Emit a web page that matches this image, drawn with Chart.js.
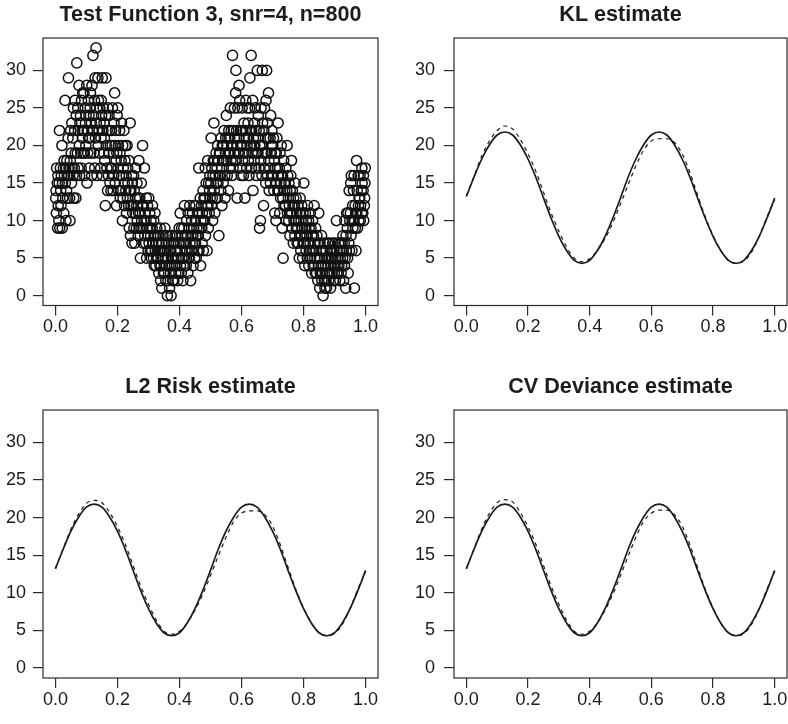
<!DOCTYPE html>
<html>
<head>
<meta charset="utf-8">
<script src="https://cdn.jsdelivr.net/npm/chart.js@4.4.1/dist/chart.umd.min.js"></script>
<style>
html,body{margin:0;padding:0;background:#fff;width:788px;height:724px;overflow:hidden;position:relative;}
canvas{position:absolute;display:block;}
</style>
</head>
<body>
<canvas id="c1" width="394" height="362" style="left:0px;top:0px"></canvas>
<canvas id="c2" width="420" height="362" style="left:394px;top:0px"></canvas>
<canvas id="c3" width="394" height="362" style="left:0px;top:362px"></canvas>
<canvas id="c4" width="420" height="362" style="left:394px;top:362px"></canvas>
<script>
// ---------- data ----------
const scatterX = [
.001,.002,.003,.004,.006,.007,.008,.009,.011,.012,.013,.014,.016,.017,.018,.019,.021,.022,.023,.024,.026,.027,.028,.029,.031,.032,.033,.034,.036,.037,.038,.039,.041,.042,.043,.044,.046,.047,.048,.049,
.051,.052,.053,.054,.056,.057,.058,.059,.061,.062,.063,.064,.066,.067,.068,.069,.071,.072,.073,.074,.076,.077,.078,.079,.081,.082,.083,.084,.086,.087,.088,.089,.091,.092,.093,.094,.096,.097,.098,.099,
.101,.102,.103,.104,.106,.107,.108,.109,.111,.112,.113,.114,.116,.117,.118,.119,.121,.122,.123,.124,.126,.127,.128,.129,.131,.132,.133,.134,.136,.137,.138,.139,.141,.142,.143,.144,.146,.147,.148,.149,
.151,.152,.153,.154,.156,.157,.158,.159,.161,.162,.163,.164,.166,.167,.168,.169,.171,.172,.173,.174,.176,.177,.178,.179,.181,.182,.183,.184,.186,.187,.188,.189,.191,.192,.193,.194,.196,.197,.198,.199,
.201,.202,.203,.204,.206,.207,.208,.209,.211,.212,.213,.214,.216,.217,.218,.219,.221,.222,.223,.224,.226,.227,.228,.229,.231,.232,.233,.234,.236,.237,.238,.239,.241,.242,.243,.244,.246,.247,.248,.249,
.251,.252,.253,.254,.256,.257,.258,.259,.261,.262,.263,.264,.266,.267,.268,.269,.271,.272,.273,.274,.276,.277,.278,.279,.281,.282,.283,.284,.286,.287,.288,.289,.291,.292,.293,.294,.296,.297,.298,.299,
.301,.302,.303,.304,.306,.307,.308,.309,.311,.312,.313,.314,.316,.317,.318,.319,.321,.322,.323,.324,.326,.327,.328,.329,.331,.332,.333,.334,.336,.337,.338,.339,.341,.342,.343,.344,.346,.347,.348,.349,
.351,.352,.353,.354,.356,.357,.358,.359,.361,.362,.363,.364,.366,.367,.368,.369,.371,.372,.373,.374,.376,.377,.378,.379,.381,.382,.383,.384,.386,.387,.388,.389,.391,.392,.393,.394,.396,.397,.398,.399,
.401,.402,.403,.404,.406,.407,.408,.409,.411,.412,.413,.414,.416,.417,.418,.419,.421,.422,.423,.424,.426,.427,.428,.429,.431,.432,.433,.434,.436,.437,.438,.439,.441,.442,.443,.444,.446,.447,.448,.449,
.451,.452,.453,.454,.456,.457,.458,.459,.461,.462,.463,.464,.466,.467,.468,.469,.471,.472,.473,.474,.476,.477,.478,.479,.481,.482,.483,.484,.486,.487,.488,.489,.491,.492,.493,.494,.496,.497,.498,.499,
.501,.502,.503,.504,.506,.507,.508,.509,.511,.512,.513,.514,.516,.517,.518,.519,.521,.522,.523,.524,.526,.527,.528,.529,.531,.532,.533,.534,.536,.537,.538,.539,.541,.542,.543,.544,.546,.547,.548,.549,
.551,.552,.553,.554,.556,.557,.558,.559,.561,.562,.563,.564,.566,.567,.568,.569,.571,.572,.573,.574,.576,.577,.578,.579,.581,.582,.583,.584,.586,.587,.588,.589,.591,.592,.593,.594,.596,.597,.598,.599,
.601,.602,.603,.604,.606,.607,.608,.609,.611,.612,.613,.614,.616,.617,.618,.619,.621,.622,.623,.624,.626,.627,.628,.629,.631,.632,.633,.634,.636,.637,.638,.639,.641,.642,.643,.644,.646,.647,.648,.649,
.651,.652,.653,.654,.656,.657,.658,.659,.661,.662,.663,.664,.666,.667,.668,.669,.671,.672,.673,.674,.676,.677,.678,.679,.681,.682,.683,.684,.686,.687,.688,.689,.691,.692,.693,.694,.696,.697,.698,.699,
.701,.702,.703,.704,.706,.707,.708,.709,.711,.712,.713,.714,.716,.717,.718,.719,.721,.722,.723,.724,.726,.727,.728,.729,.731,.732,.733,.734,.736,.737,.738,.739,.741,.742,.743,.744,.746,.747,.748,.749,
.751,.752,.753,.754,.756,.757,.758,.759,.761,.762,.763,.764,.766,.767,.768,.769,.771,.772,.773,.774,.776,.777,.778,.779,.781,.782,.783,.784,.786,.787,.788,.789,.791,.792,.793,.794,.796,.797,.798,.799,
.801,.802,.803,.804,.806,.807,.808,.809,.811,.812,.813,.814,.816,.817,.818,.819,.821,.822,.823,.824,.826,.827,.828,.829,.831,.832,.833,.834,.836,.837,.838,.839,.841,.842,.843,.844,.846,.847,.848,.849,
.851,.852,.853,.854,.856,.857,.858,.859,.861,.862,.863,.864,.866,.867,.868,.869,.871,.872,.873,.874,.876,.877,.878,.879,.881,.882,.883,.884,.886,.887,.888,.889,.891,.892,.893,.894,.896,.897,.898,.899,
.901,.902,.903,.904,.906,.907,.908,.909,.911,.912,.913,.914,.916,.917,.918,.919,.921,.922,.923,.924,.926,.927,.928,.929,.931,.932,.933,.934,.936,.937,.938,.939,.941,.942,.943,.944,.946,.947,.948,.949,
.951,.952,.953,.954,.956,.957,.958,.959,.961,.962,.963,.964,.966,.967,.968,.969,.971,.972,.973,.974,.976,.977,.978,.979,.981,.982,.983,.984,.986,.987,.988,.989,.991,.992,.993,.994,.996,.997,.998,.999
];
const scatterY = [
13,14,11,17,15,9,16,12, 10,15,22,9,17,14,12,16, 20,9,15,13,17,11,18,16, 26,15,17,10,14,18,16,13, 21,29,16,17,13,10,18,22,
19,15,23,17,21,16,25,13, 17,22,26,19,13,24,16,31, 19,25,17,22,28,20,16,23, 24,19,17,26,22,21,27,19, 22,27,19,16,25,23,20,24,
28,15,22,19,26,21,24,17, 21,25,27,19,23,16,28,22, 32,22,24,19,26,17,29,21, 33,23,25,16,22,29,20,26, 22,19,25,23,17,21,26,24,
29,16,22,25,19,23,21,18, 12,24,29,20,17,22,14,25, 16,19,24,22,15,20,17,14, 22,17,20,25,14,19,16,23, 27,20,15,22,18,12,19,24,
25,17,20,14,16,22,19,13, 14,18,23,16,10,20,13,17, 22,15,12,18,20,14,16,11, 20,13,17,15,12,18,9,14, 23,8,14,12,16,7,15,11,
12,16,9,14,7,11,13,17, 9,12,15,10,13,8,11,18, 9,13,11,5,9,15,10,12, 20,9,7,12,10,17,8,11, 7,10,13,5,9,12,8,6,
13,7,9,11,6,8,10,5, 6,9,12,7,5,10,8,4, 11,6,8,4,7,9,5,6, 5,8,3,7,6,4,9,2, 4,7,1,6,5,8,3,6,
6,3,9,5,2,7,4,8, 0,5,2,7,4,6,1,8, 3,6,0,5,8,4,2,7, 5,2,7,4,8,6,3,5, 4,6,8,2,5,7,3,9,
6,11,4,7,3,9,5,8, 2,7,5,9,12,4,6,8, 7,4,10,6,8,3,11,5, 9,5,12,7,2,8,6,10, 6,11,8,4,9,12,7,5,
10,7,12,5,9,8,11,6, 8,17,6,11,9,13,4,10, 12,9,7,11,14,6,10,13, 10,13,17,8,15,11,12,6, 18,12,9,15,11,14,16,13,
15,21,12,17,13,10,16,18, 23,14,18,11,16,13,19,15, 17,13,20,15,18,8,16,19, 19,16,14,21,17,12,20,18, 15,20,18,22,16,13,19,21,
24,18,20,16,21,19,14,22, 17,21,19,25,18,22,20,16, 32,20,17,22,19,25,21,18, 27,30,18,22,13,20,25,19, 21,28,19,26,17,22,20,16,
20,25,18,22,16,19,23,21, 13,22,19,26,21,17,20,25, 23,18,21,16,25,29,20,22, 32,17,22,19,26,14,21,20, 18,23,20,25,17,22,16,19,
30,21,19,24,17,22,9,20, 10,18,25,20,16,30,23,19, 12,22,17,25,19,21,15,26, 30,19,23,16,21,27,18,14, 17,21,15,24,19,16,22,20,
20,16,21,14,18,11,19,17, 10,19,15,21,17,14,23,16, 14,17,11,19,13,15,20,16, 9,16,13,5,18,12,15,14, 15,12,17,10,14,20,11,16,
13,10,15,12,8,14,11,16, 18,11,9,14,12,7,13,10, 12,8,15,10,13,9,11,7, 9,12,7,10,5,11,8,13, 6,10,8,12,9,5,11,7,
15,7,9,4,11,8,6,10, 8,5,12,7,10,4,9,6, 7,11,5,9,3,8,6,10, 4,8,6,12,5,7,3,9, 6,3,8,5,2,7,4,11,
5,1,7,3,6,4,8,2, 3,6,0,4,7,2,5,1, 4,2,6,1,5,7,3,4, 2,5,7,3,6,1,4,5, 6,3,5,7,2,4,6,3,
4,7,2,5,10,3,6,4, 5,3,7,4,6,2,5,7, 3,6,4,7,5,8,6,2, 7,4,10,5,1,8,6,11, 9,5,11,3,7,14,6,10,
11,15,8,16,6,10,12,9, 14,10,16,1,12,9,11,6, 18,11,14,9,16,12,10,13, 13,16,10,12,14,11,17,15, 11,14,16,10,12,13,15,17
];
const curveX = [0,.025,.05,.075,.1,.125,.15,.175,.2,.225,.25,.275,.3,.325,.35,.375,.4,.425,.45,.475,.5,
                .525,.55,.575,.6,.625,.65,.675,.7,.725,.75,.775,.8,.825,.85,.875,.9,.925,.95,.975,1];
const trueCurve = [13.2,15.8,18.2,20.1,21.4,21.8,21.4,20.1,18.2,15.8,13.05,10.3,7.9,6.0,4.7,4.3,4.7,6.0,7.9,10.3,13.0,
                   15.8,18.2,20.1,21.4,21.8,21.4,20.1,18.2,15.8,13.0,10.3,7.9,6.0,4.7,4.3,4.7,6.0,7.9,10.3,13.0];
const klEstimate = [13.3,15.9,18.6,20.6,22.0,22.6,22.2,20.8,18.9,16.6,13.8,11.0,8.6,6.5,5.0,4.5,4.9,6.0,7.6,9.7,12.2,
                    14.8,17.3,19.4,20.6,20.9,20.9,20.4,18.9,16.4,13.4,10.5,8.0,6.0,4.7,4.3,4.6,5.8,7.9,10.5,12.7];
const l2Estimate = [13.3,15.9,18.5,20.5,21.9,22.3,22.0,20.7,18.8,16.5,13.7,10.9,8.5,6.4,4.9,4.5,4.9,6.0,7.7,9.8,12.3,
                    14.9,17.4,19.5,20.6,20.9,20.9,20.4,18.9,16.4,13.4,10.5,8.0,6.0,4.7,4.3,4.6,5.8,7.9,10.5,12.8];
const cvEstimate = [13.3,15.9,18.5,20.6,22.0,22.4,22.1,20.7,18.8,16.5,13.7,10.9,8.5,6.4,4.9,4.5,4.9,6.0,7.7,9.8,12.3,
                    14.9,17.4,19.5,20.6,21.0,21.0,20.4,18.9,16.4,13.4,10.5,8.0,6.0,4.7,4.3,4.6,5.8,7.9,10.5,12.8];
const xTicks = [0, 0.2, 0.4, 0.6, 0.8, 1.0];
const xTickLabels = ['0.0','0.2','0.4','0.6','0.8','1.0'];
const yTicks = [0, 5, 10, 15, 20, 25, 30];
const yTickLabels = ['0','5','10','15','20','25','30'];
const panelTitles = ['Test Function 3, snr=4, n=800','KL estimate','L2 Risk estimate','CV Deviance estimate'];

// ---------- drawing ----------
const FONT = "'Liberation Sans', Arial, Helvetica, sans-serif";
const INK = '#1c1c1c';
Chart.defaults.font.family = FONT;
Chart.defaults.color = INK;

const boxPlugin = {
  id: 'rbox',
  afterDraw(chart) {
    const {ctx, chartArea: a} = chart;
    ctx.save();
    ctx.strokeStyle = '#2a2a2a';
    ctx.lineWidth = 1.2;
    ctx.strokeRect(a.left, a.top, a.right - a.left, a.bottom - a.top);
    ctx.restore();
  }
};

function pts(xs, ys) { return xs.map((x, i) => ({x: x, y: ys[i]})); }

function makePanel(id, title, datasets, g) {
  return new Chart(document.getElementById(id), {
    type: 'scatter',
    data: {datasets: datasets},
    options: {
      responsive: false, animation: false, devicePixelRatio: 1,
      layout: {padding: {left: 0, right: g.padR, top: 0, bottom: 0}},
      plugins: {
        legend: {display: false}, tooltip: {enabled: false},
        title: {display: true, text: title, fullSize: false, color: INK,
                font: {family: FONT, size: 21.6, weight: 'bold', lineHeight: 1.2},
                padding: {top: g.titleTop, bottom: g.titleBottom}}
      },
      scales: {
        x: {
          type: 'linear', min: -0.04, max: 1.04,
          afterBuildTicks(s) { s.ticks = xTicks.map(v => ({value: v})); },
          afterFit(s) { s.height = g.xh; },
          ticks: {autoSkip: false, maxRotation: 0, minRotation: 0, padding: 1, color: INK,
                  font: {family: FONT, size: 18},
                  callback(v) { return xTickLabels[xTicks.indexOf(v)]; }},
          grid: {drawOnChartArea: false, drawTicks: true, tickLength: 10, color: '#2a2a2a', lineWidth: 1.2},
          border: {display: false}
        },
        y: {
          type: 'linear', min: -1.32, max: 34.32,
          afterBuildTicks(s) { s.ticks = yTicks.map(v => ({value: v})); },
          afterFit(s) { s.width = g.yw; },
          ticks: {autoSkip: false, padding: g.yPad, color: INK,
                  font: {family: FONT, size: 18},
                  callback(v) { return yTickLabels[yTicks.indexOf(v)]; }},
          grid: {drawOnChartArea: false, drawTicks: true, tickLength: 10, color: '#2a2a2a', lineWidth: 1.2},
          border: {display: false}
        }
      }
    },
    plugins: [boxPlugin]
  });
}

function curveSets(estimate) {
  return [
    {data: pts(curveX, trueCurve), showLine: true, pointRadius: 0, borderColor: INK, borderWidth: 1.7,
     cubicInterpolationMode: 'monotone', fill: false},
    {data: pts(curveX, estimate), showLine: true, pointRadius: 0, borderColor: INK, borderWidth: 1.2,
     borderDash: [4, 4], cubicInterpolationMode: 'monotone', fill: false}
  ];
}

const topRow = {titleTop: 2.5, titleBottom: 9.6, xh: 56.5};
const botRow = {titleTop: 12.5, titleBottom: 9.6, xh: 46};
const leftCol = {yw: 43, padR: 16, yPad: 7};
const rightCol = {yw: 60, padR: 27, yPad: 9};

makePanel('c1', panelTitles[0], [{
  data: pts(scatterX, scatterY), pointStyle: 'circle', pointRadius: 5.1, pointBorderWidth: 1.5,
  pointBorderColor: '#111', pointBackgroundColor: 'rgba(0,0,0,0)', borderColor: '#111', backgroundColor: 'rgba(0,0,0,0)'
}], Object.assign({}, topRow, leftCol));
makePanel('c2', panelTitles[1], curveSets(klEstimate), Object.assign({}, topRow, rightCol));
makePanel('c3', panelTitles[2], curveSets(l2Estimate), Object.assign({}, botRow, leftCol));
makePanel('c4', panelTitles[3], curveSets(cvEstimate), Object.assign({}, botRow, rightCol));
</script>
</body>
</html>
